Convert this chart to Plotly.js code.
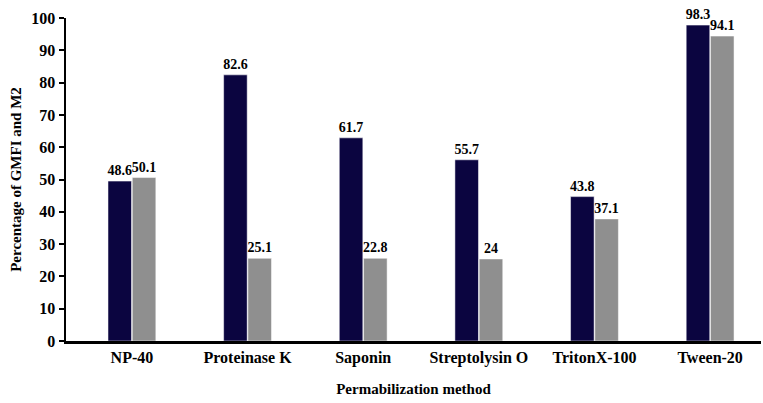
<!DOCTYPE html>
<html>
<head>
<meta charset="utf-8">
<script src="https://cdn.plot.ly/plotly-3.0.1.min.js"></script>
<style>html,body{margin:0;padding:0;background:#fff;}#chart{width:763px;height:403px;}</style>
</head>
<body>
<div id="chart"></div>
<script>
const categories = ["NP-40", "Proteinase K", "Saponin", "Streptolysin O", "TritonX-100", "Tween-20"];
const gmfiValues = [49.5, 82.4, 62.9, 56.1, 44.7, 97.8];
const m2Values = [50.6, 25.6, 25.6, 25.4, 37.8, 94.4];
const gmfiLabels = ["48.6", "82.6", "61.7", "55.7", "43.8", "98.3"];
const m2Labels = ["50.1", "25.1", "22.8", "24", "37.1", "94.1"];
const yTicks = [0, 10, 20, 30, 40, 50, 60, 70, 80, 90, 100];

const serif = "Liberation Serif, Times New Roman, serif";
const labelFont = {family: serif, size: 14, color: "#000", weight: "bold"};

const traces = [
  {type: "bar", name: "GMFI", x: categories, y: gmfiValues, text: gmfiLabels,
   textposition: "outside", texttemplate: "<b>%{text}</b>", textfont: labelFont,
   constraintext: "none", cliponaxis: false,
   marker: {color: "#0b0540", line: {color: "#ffffff", width: 0.5}}, hoverinfo: "none"},
  {type: "bar", name: "M2", x: categories, y: m2Values, text: m2Labels,
   textposition: "outside", texttemplate: "<b>%{text}</b>", textfont: labelFont,
   constraintext: "none", cliponaxis: false,
   marker: {color: "#8f8f8f", line: {color: "#ffffff", width: 0.5}}, hoverinfo: "none"}
];

const layout = {
  width: 763, height: 403,
  margin: {l: 66, r: 2, t: 18, b: 62},
  paper_bgcolor: "#fff", plot_bgcolor: "#fff",
  showlegend: false,
  barmode: "group", bargap: 0.58, bargroupgap: 0.03,
  font: {family: serif, color: "#000"},
  xaxis: {
    range: [-0.57, 5.44], showline: true, linecolor: "#000", linewidth: 2.5,
    ticks: "", showgrid: false, zeroline: false,
    tickfont: {family: serif, size: 16, color: "#000", weight: "bold"},
    title: {text: "<b>Permabilization method</b>", font: {family: serif, size: 15, color: "#000"}, standoff: 18}
  },
  yaxis: {
    range: [0, 100], tickvals: yTicks, showline: true, linecolor: "#000", linewidth: 2.5,
    ticks: "outside", ticklen: 5, tickwidth: 2, tickcolor: "#000",
    showgrid: false, zeroline: false,
    tickfont: {family: serif, size: 16, color: "#000", weight: "bold"},
    title: {text: "<b>Percentage of GMFI and M2</b>", font: {family: serif, size: 15, color: "#000"}, standoff: 6}
  }
};

Plotly.newPlot("chart", traces, layout, {displayModeBar: false, staticPlot: true});
</script>
</body>
</html>
